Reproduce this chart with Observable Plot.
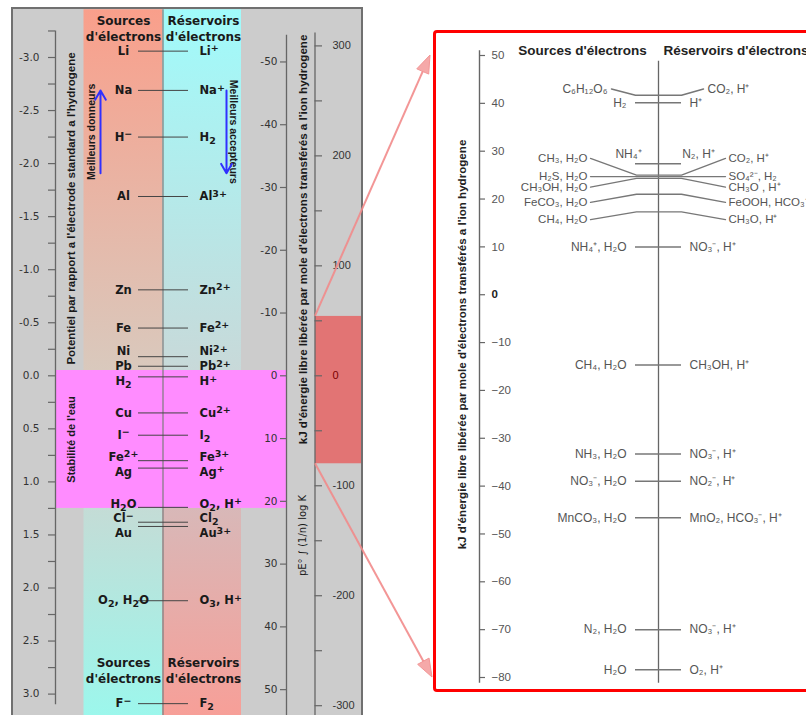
<!DOCTYPE html>
<html><head><meta charset="utf-8">
<script src="https://cdn.jsdelivr.net/npm/d3@7"></script>
<script src="https://cdn.jsdelivr.net/npm/@observablehq/plot@0.6"></script>
<style>
body{margin:0;background:#fff;}
#chart{position:relative;width:806px;height:715px;overflow:hidden;background:#fff;}
#chart svg{position:absolute;left:0;top:0;}
.leftbox{position:absolute;left:11px;top:7px;width:348px;height:720px;background:#cccccc;border:2px solid #707070;}
.rightbox{position:absolute;left:433px;top:30px;width:420px;height:656px;background:#fff;border:3.5px solid #ff0000;border-radius:4px;}
</style></head>
<body>
<div id="chart"><div class="leftbox"></div><div class="rightbox"></div></div>
<script>
// ---------- Left panel data (standard potentials, V) ----------
const leftDonors = ["Li","Na","H⁻","Al","Zn","Fe","Ni","Pb","H₂","Cu","I⁻","Fe²⁺","Ag","H₂O","Cl⁻","Au","O₂, H₂O","F⁻"];
const leftAcceptors = ["Li⁺","Na⁺","H₂","Al³⁺","Zn²⁺","Fe²⁺","Ni²⁺","Pb²⁺","H⁺","Cu²⁺","I₂","Fe³⁺","Ag⁺","O₂, H⁺","Cl₂","Au³⁺","O₃, H⁺","F₂"];
const leftPotentialV = [-3.06,-2.69,-2.25,-1.69,-0.81,-0.45,-0.18,-0.09,0.01,0.35,0.56,0.80,0.87,1.24,1.38,1.42,2.12,3.09];
const potentialTicks = [-3.0,-2.5,-2.0,-1.5,-1.0,-0.5,0.0,0.5,1.0,1.5,2.0,2.5,3.0];
const pETicks = [-50,-40,-30,-20,-10,0,10,20,30,40,50];
const kJTicks = [300,200,100,0,-100,-200,-300];
const waterStabilityV = [-0.05, 1.25];
const zoomWindowKJ = [54, -80];
const donorArrowV = [-1.91, -2.69];
const acceptorArrowV = [-2.69, -1.91];

// ---------- Right panel data (kJ per mole of electrons) ----------
const rightTicks = [50,40,30,20,10,0,-10,-20,-30,-40,-50,-60,-70,-80];
const rightDonors = ["H₂","NH₄⁺, H₂O","CH₄, H₂O","NH₃, H₂O","NO₃⁻, H₂O","MnCO₃, H₂O","N₂, H₂O","H₂O"];
const rightAcceptors = ["H⁺","NO₃⁻, H⁺","CH₃OH, H⁺","NO₃⁻, H⁺","NO₂⁻, H⁺","MnO₂, HCO₃⁻, H⁺","NO₃⁻, H⁺","O₂, H⁺"];
const rightKJ = [40.1,10,-14.7,-33.3,-39,-46.6,-70,-78.4];
const fanDonors = ["CH₃, H₂O","H₂S, H₂O","CH₃OH, H₂O","FeCO₃, H₂O","CH₄, H₂O"];
const fanAcceptors = ["CO₂, H⁺","SO₄²⁻, H₂","CH₃O , H⁺","FeOOH, HCO₃⁻","CH₃O, H⁺"];
const fanKJ = [25.0,24.7,24.3,21.0,17.3];
const fanLabelKJ = [28.5,24.7,22.5,19.3,15.7];
const glucoseDonor = ["C₆H₁₂O₆"], glucoseAcceptor = ["CO₂, H⁺"], glucoseKJ = [41.7], glucoseLabelKJ = [43];
const ammoniumDonor = ["NH₄⁺"], ammoniumAcceptor = ["N₂, H⁺"], ammoniumKJ = [27.4], ammoniumLabelKJ = [29.3];

// ---------- helpers ----------
const kJtoV = k => -k / 96.485;
const pEtoV = p => p * 0.05916;
function dodge(values, gap) {
  const idx = values.map((v, i) => i).sort((a, b) => values[a] - values[b]);
  const out = values.slice();
  for (let it = 0; it < 300; it++) {
    let moved = false;
    for (let k = 1; k < idx.length; k++) {
      const a = idx[k - 1], b = idx[k], d = out[b] - out[a];
      if (d < gap - 1e-9) { const s = (gap - d) / 2; out[a] -= s; out[b] += s; moved = true; }
    }
    if (!moved) break;
  }
  return out;
}

const VDOMAIN = [-375.3 / 106.1, (715 - 375.3) / 106.1];
const vBot = VDOMAIN[1];
const colTop = -3.45;

const dodged = dodge(leftPotentialV, 0.14);
const rowsL = leftDonors.map((d, i) => ({donor: d, acceptor: leftAcceptors[i], v: leftPotentialV[i], lv: dodged[i]}));
const minorV = d3.range(-3.25, 3.01, 0.25);

const F = "DejaVu Sans";
const FL = "Liberation Sans";
const bold12 = {fontFamily: F, fontWeight: "bold", fontSize: 12, fill: "#1a1a1a"};
const boldLab = {fontFamily: F, fontWeight: "bold", fontSize: 11.5, fill: "#1a1a1a"};

const leftPlot = Plot.plot({
  width: 806, height: 715, margin: 0,
  style: {background: "transparent"},
  x: {type: "identity", axis: null},
  y: {domain: VDOMAIN, range: [0, 715], axis: null},
  marks: [
    Plot.rect([0], {x1: 83.5, x2: 162.5, y1: colTop, y2: waterStabilityV[0], fill: "url(#gSrcTop)"}),
    Plot.rect([0], {x1: 162.5, x2: 241, y1: colTop, y2: waterStabilityV[0], fill: "url(#gResTop)"}),
    Plot.rect([0], {x1: 83.5, x2: 162.5, y1: waterStabilityV[1], y2: vBot, fill: "url(#gSrcBot)"}),
    Plot.rect([0], {x1: 162.5, x2: 241, y1: waterStabilityV[1], y2: vBot, fill: "url(#gResBot)"}),
    Plot.rect([0], {x1: 55, x2: 286, y1: waterStabilityV[0], y2: waterStabilityV[1], fill: "#ff8cff"}),
    Plot.rect([0], {x1: 315, x2: 361, y1: kJtoV(zoomWindowKJ[0]), y2: kJtoV(zoomWindowKJ[1]), fill: "#e27474"}),
    Plot.ruleX([162.5], {y1: colTop, y2: vBot, stroke: "#7c7c7c", strokeWidth: 1.2}),
    // potential axis
    Plot.ruleX([55], {y1: -3.25, y2: 3.1, stroke: "#666", strokeWidth: 1.3}),
    Plot.ruleY(minorV, {y: d => d, x1: 48, x2: 55, stroke: "#666", strokeWidth: 1.2}),
    Plot.text(potentialTicks, {x: 39, y: d => d, text: d => d.toFixed(1), textAnchor: "end", fontFamily: F, fontSize: 10.5, fill: "#333"}),
    // pE axis
    Plot.ruleX([286], {y1: -3.21, y2: vBot, stroke: "#666", strokeWidth: 1.3}),
    Plot.ruleY(pETicks, {y: d => pEtoV(d), x1: 280, x2: 286, stroke: "#666", strokeWidth: 1.2}),
    Plot.text(pETicks, {x: 277, y: d => pEtoV(d), text: d => String(d), textAnchor: "end", fontFamily: F, fontSize: 10.5, fill: "#333"}),
    // kJ axis
    Plot.ruleX([314.5], {y1: -3.23, y2: vBot, stroke: "#666", strokeWidth: 1.3}),
    Plot.ruleY(d3.range(-300, 301, 50), {y: d => kJtoV(d), x1: 314.5, x2: 322, stroke: "#666", strokeWidth: 1.2}),
    Plot.text(kJTicks.filter(d => d !== 0), {x: 332, y: d => kJtoV(d), text: d => String(d), textAnchor: "start", fontFamily: FL, fontSize: 11, fill: "#333"}),
    Plot.text(kJTicks.filter(d => d === 0), {x: 332, y: d => kJtoV(d), text: d => String(d), textAnchor: "start", fontFamily: FL, fontSize: 11, fill: "#7a0000"}),
    // couples
    Plot.ruleY(rowsL, {y: "v", x1: 138, x2: 188, stroke: "#444", strokeWidth: 1}),
    Plot.text(rowsL, {x: 123, y: "lv", text: "donor", ...boldLab}),
    Plot.text(rowsL, {x: 199, y: "lv", text: "acceptor", textAnchor: "start", ...boldLab}),
    // headers
    Plot.text(["Sources\nd'électrons"], {x: 123, frameAnchor: "top", lineAnchor: "middle", dy: 27, text: d => d, lineHeight: 1.35, ...bold12}),
    Plot.text(["Réservoirs\nd'électrons"], {x: 203, frameAnchor: "top", lineAnchor: "middle", dy: 27, text: d => d, lineHeight: 1.35, ...bold12}),
    Plot.text(["Sources\nd'électrons"], {x: 123, frameAnchor: "bottom", lineAnchor: "middle", dy: -46, text: d => d, lineHeight: 1.35, ...bold12}),
    Plot.text(["Réservoirs\nd'électrons"], {x: 203, frameAnchor: "bottom", lineAnchor: "middle", dy: -46, text: d => d, lineHeight: 1.35, ...bold12}),
    // rotated labels
    Plot.text(["Potentiel par rapport a l'électrode standard a l'hydrogene"], {x: 71, y: -1.577, text: d => d, rotate: -90, fontFamily: FL, fontWeight: "bold", fontSize: 11.5, fill: "#1a1a1a"}),
    Plot.text(["Stabilité de l'eau"], {x: 71, y: (waterStabilityV[0] + waterStabilityV[1]) / 2, text: d => d, rotate: -90, fontFamily: FL, fontWeight: "bold", fontSize: 11, fill: "#1a1a1a"}),
    Plot.text(["Meilleurs donneurs"], {x: 91, y: (donorArrowV[0] + donorArrowV[1]) / 2, text: d => d, rotate: -90, fontFamily: FL, fontWeight: "bold", fontSize: 10.5, fill: "#1a1a1a"}),
    Plot.text(["Meilleurs accepteurs"], {x: 233, y: (acceptorArrowV[0] + acceptorArrowV[1]) / 2, text: d => d, rotate: 90, fontFamily: FL, fontWeight: "bold", fontSize: 10.5, fill: "#1a1a1a"}),
    Plot.arrow([0], {x1: 100, x2: 100, y1: donorArrowV[0], y2: donorArrowV[1], stroke: "#3030ff", strokeWidth: 2, headLength: 8}),
    Plot.arrow([0], {x1: 226, x2: 226, y1: acceptorArrowV[0], y2: acceptorArrowV[1], stroke: "#3030ff", strokeWidth: 2, headLength: 8}),
    Plot.text(["kJ d'énergie libre libérée par mole d'électrons transférés a l'ion hydrogene"], {x: 303, y: -1.285, text: d => d, rotate: -90, fontFamily: FL, fontWeight: "bold", fontSize: 11.6, fill: "#1a1a1a"}),
    Plot.text(["pE° ∫ (1/n) log K"], {x: 302, y: 1.505, text: d => d, rotate: -90, fontFamily: F, fontSize: 10, fill: "#1a1a1a"})
  ]
});

// gradients
const ldefs = d3.select(leftPlot).insert("defs", ":first-child");
function grad(id, c0, c1) {
  const g = ldefs.append("linearGradient").attr("id", id).attr("x1", 0).attr("y1", 0).attr("x2", 0).attr("y2", 1);
  g.append("stop").attr("offset", "0%").attr("stop-color", c0);
  g.append("stop").attr("offset", "100%").attr("stop-color", c1);
}
grad("gSrcTop", "#f99f8b", "#d9c9bd");
grad("gResTop", "#a0fbfb", "#c8d9d9");
grad("gSrcBot", "#c4dcd6", "#9cf7ec");
grad("gResBot", "#d8b8b8", "#f79f98");

// larger super/subscripts for the left-panel chemical labels (text stays text)
const SUP = {"⁺": "+", "⁻": "−", "²": "2", "³": "3"}, SUB = {"₂": "2", "₃": "3"};
d3.select(leftPlot).selectAll("text").each(function () {
  if (this.querySelector("tspan")) return;
  const chars = [...this.textContent];
  if (!chars.some(c => SUP[c] || SUB[c])) return;
  const runs = [];
  for (const c of chars) {
    const m = SUP[c] ? "sup" : SUB[c] ? "sub" : "n";
    const ch = SUP[c] || SUB[c] || c;
    if (runs.length && runs[runs.length - 1].m === m) runs[runs.length - 1].t += ch;
    else runs.push({m, t: ch});
  }
  this.textContent = "";
  let cur = 0;
  for (const r of runs) {
    const target = r.m === "sup" ? -3.5 : r.m === "sub" ? 3 : 0;
    const ts = d3.select(this).append("tspan").text(r.t);
    if (target !== cur) ts.attr("dy", target - cur);
    if (r.m !== "n") ts.attr("font-size", 9.5);
    cur = target;
  }
});

// ---------- right panel ----------
const rowsR = rightDonors.map((d, i) => ({donor: d, acceptor: rightAcceptors[i], k: rightKJ[i]}));
const fanRows = fanDonors.map((d, i) => ({donor: d, acceptor: fanAcceptors[i], k: fanKJ[i], lk: fanLabelKJ[i]}));
const fanPaths = fanRows.flatMap((r, i) => [
  {row: i, x: 590, y: r.lk}, {row: i, x: 636, y: r.k}, {row: i, x: 681, y: r.k}, {row: i, x: 725, y: r.lk}
]);
const gluPath = [
  {x: 611, y: glucoseLabelKJ[0]}, {x: 635, y: glucoseKJ[0]}, {x: 681, y: glucoseKJ[0]}, {x: 703, y: glucoseLabelKJ[0]}
];
const lab = {fontFamily: FL, fontSize: 12, fill: "#555"};
const labFan = {fontFamily: FL, fontSize: 11.5, fill: "#555"};

const rightPlot = Plot.plot({
  width: 806, height: 715, margin: 0,
  style: {background: "transparent"},
  x: {type: "identity", axis: null},
  y: {domain: [50, -80], range: [55, 677], axis: null},
  marks: [
    Plot.ruleX([479], {y1: 51, y2: -81.2, stroke: "#666", strokeWidth: 1.4}),
    Plot.ruleY(rightTicks, {y: d => d, x1: 479, x2: 485, stroke: "#666", strokeWidth: 1.2}),
    Plot.text(rightTicks.filter(d => d !== 0), {x: 491, y: d => d, text: d => d < 0 ? "−" + (-d) : String(d), textAnchor: "start", fontFamily: FL, fontSize: 11.5, fill: "#555"}),
    Plot.text(rightTicks.filter(d => d === 0), {x: 491, y: d => d, text: d => String(d), textAnchor: "start", fontFamily: FL, fontWeight: "bold", fontSize: 11.5, fill: "#222"}),
    Plot.ruleX([658], {y1: 48.8, y2: -81.2, stroke: "#666", strokeWidth: 1.3}),
    Plot.text(["Sources d'électrons"], {x: 582, frameAnchor: "top", lineAnchor: "middle", dy: 50, text: d => d, fontFamily: FL, fontWeight: "bold", fontSize: 13.5, fill: "#222"}),
    Plot.text(["Réservoirs d'électrons"], {x: 663, frameAnchor: "top", lineAnchor: "middle", dy: 50, text: d => d, textAnchor: "start", fontFamily: FL, fontWeight: "bold", fontSize: 13.5, fill: "#222"}),
    Plot.text(["kJ d'énergie libre libérée par mole d'électrons transférés a l'ion hydrogene"], {x: 462, y: -10.4, text: d => d, rotate: -90, fontFamily: FL, fontWeight: "bold", fontSize: 11.6, fill: "#222"}),
    // straight couples
    Plot.ruleY(rowsR, {y: "k", x1: 635, x2: 681, stroke: "#777", strokeWidth: 1.5}),
    Plot.text(rowsR, {x: 626, y: "k", text: "donor", textAnchor: "end", ...lab}),
    Plot.text(rowsR, {x: 689, y: "k", text: "acceptor", textAnchor: "start", ...lab}),
    // ammonium / nitrogen
    Plot.ruleY(ammoniumKJ, {y: d => d, x1: 635, x2: 681, stroke: "#777", strokeWidth: 1.5}),
    Plot.text(ammoniumDonor, {x: 628, y: ammoniumLabelKJ[0], text: d => d, ...lab}),
    Plot.text(ammoniumAcceptor, {x: 698, y: ammoniumLabelKJ[0], text: d => d, ...lab}),
    // glucose
    Plot.line(gluPath, {x: "x", y: "y", stroke: "#777", strokeWidth: 1.5}),
    Plot.text(glucoseDonor, {x: 607, y: glucoseLabelKJ[0], text: d => d, textAnchor: "end", ...lab}),
    Plot.text(glucoseAcceptor, {x: 707, y: glucoseLabelKJ[0], text: d => d, textAnchor: "start", ...lab}),
    // fan
    Plot.line(fanPaths, {x: "x", y: "y", z: "row", stroke: "#777", strokeWidth: 1.3}),
    Plot.text(fanRows, {x: 587, y: "lk", text: "donor", textAnchor: "end", ...labFan}),
    Plot.text(fanRows, {x: 728, y: "lk", text: "acceptor", textAnchor: "start", ...labFan})
  ]
});

const chart = document.getElementById("chart");
chart.appendChild(leftPlot);
chart.appendChild(rightPlot);

// ---------- connecting arrows (positions from both plots' scales) ----------
const ly = leftPlot.scale("y"), ry = rightPlot.scale("y");
const arrows = [
  {x1: 315, y1: ly.apply(kJtoV(zoomWindowKJ[0])), x2: 430, y2: ry.apply(rightTicks[0])},
  {x1: 315, y1: ly.apply(kJtoV(zoomWindowKJ[1])), x2: 432, y2: ry.apply(rightTicks[rightTicks.length - 1])}
];
const over = d3.create("svg").attr("width", 806).attr("height", 715);
for (const a of arrows) {
  const dx = a.x2 - a.x1, dy = a.y2 - a.y1, L = Math.hypot(dx, dy), ux = dx / L, uy = dy / L;
  const hl = 18, hw = 6.5;
  const bx = a.x2 - ux * hl, by = a.y2 - uy * hl;
  over.append("line").attr("x1", a.x1).attr("y1", a.y1).attr("x2", bx).attr("y2", by)
    .attr("stroke", "#f28b8b").attr("stroke-width", 2).attr("opacity", 0.9);
  over.append("path")
    .attr("d", `M${a.x2},${a.y2}L${bx - uy * hw},${by + ux * hw}L${bx + uy * hw},${by - ux * hw}Z`)
    .attr("fill", "#f4a0a0").attr("stroke", "#f28b8b").attr("stroke-width", 1).attr("opacity", 0.9);
}
chart.appendChild(over.node());
</script>
</body></html>
